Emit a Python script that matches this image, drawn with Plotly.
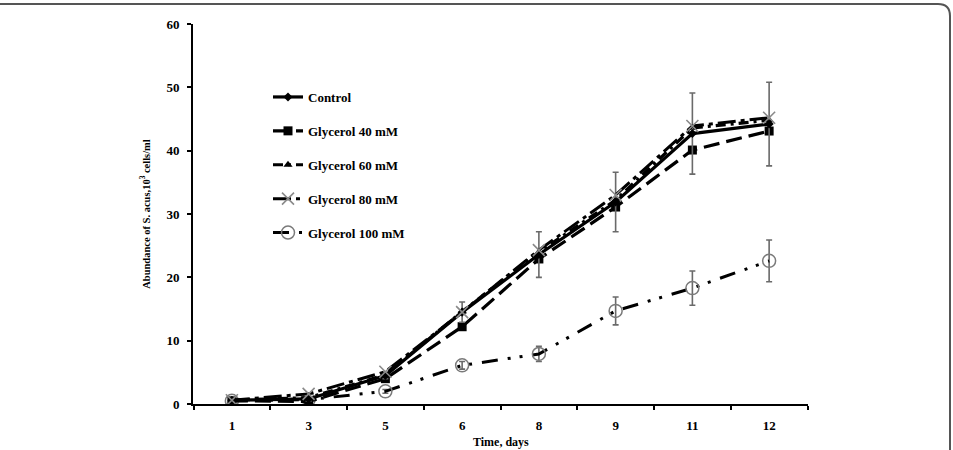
import plotly.graph_objects as go

days = ["1", "3", "5", "6", "8", "9", "11", "12"]

control = [0.6, 0.8, 4.5, 14.5, 23.6, 31.9, 42.7, 44.2]
control_err = [0.2, 0.3, 0.5, 1.6, 3.6, 4.7, 6.4, 6.6]
gly40 = [0.5, 0.4, 4.0, 12.2, 22.9, 31.1, 40.1, 43.1]
gly60 = [0.6, 1.0, 4.6, 14.6, 24.0, 32.2, 43.6, 44.8]
gly80 = [0.6, 1.6, 5.1, 14.5, 24.3, 33.0, 43.9, 45.2]
gly100 = [0.5, 0.7, 2.0, 6.1, 7.9, 14.7, 18.3, 22.6]
gly100_err = [0.2, 0.2, 0.3, 0.6, 1.2, 2.2, 2.7, 3.3]

y_ticks = [0, 10, 20, 30, 40, 50, 60]

FONT = "Liberation Serif"
fig = go.Figure()

err_style = dict(type="data", color="#6a6a6a", thickness=1.6, width=3)

fig.add_trace(go.Scatter(
    x=days, y=gly100, name="Glycerol 100 mM", mode="lines+markers",
    line=dict(color="black", width=3, dash="16px,10px,3px,9px,3px,10px"),
    marker=dict(symbol="circle-open", size=13, color="#7a7a7a", line=dict(width=1.5, color="#7a7a7a")),
    error_y=dict(array=gly100_err, **err_style),
    legendgroup="e", legendrank=5,
))
fig.add_trace(go.Scatter(
    x=days, y=gly40, name="Glycerol 40 mM", mode="lines+markers",
    line=dict(color="black", width=3.2, dash="16px,7px"),
    marker=dict(symbol="square", size=9, color="black"),
    legendgroup="b", legendrank=2,
))
fig.add_trace(go.Scatter(
    x=days, y=gly60, name="Glycerol 60 mM", mode="lines+markers",
    line=dict(color="black", width=3.2, dash="10px,5px,3px,5px"),
    marker=dict(symbol="triangle-up", size=8, color="black"),
    legendgroup="c", legendrank=3,
))
fig.add_trace(go.Scatter(
    x=days, y=control, name="Control", mode="lines+markers",
    line=dict(color="black", width=3.2),
    marker=dict(symbol="diamond", size=7, color="black"),
    error_y=dict(array=control_err, **err_style),
    legendgroup="a", legendrank=1,
))
fig.add_trace(go.Scatter(
    x=days, y=gly80, name="Glycerol 80 mM", mode="lines+markers",
    line=dict(color="black", width=3, dash="18px,5px,4px,5px"),
    marker=dict(symbol="x-thin-open", size=12, color="#8a8a8a", line=dict(width=1.6, color="#8a8a8a")),
    legendgroup="d", legendrank=4,
))

L, R, T, B = 193, 145, 24, 46
W, H = 953, 450
pw, ph = W - L - R, H - T - B

def px(xp):
    return (xp - L) / pw

def py(yp):
    return (H - B - yp) / ph

# frame (top edge + rounded top-right corner + right edge)
x0, x1, yt, yb, r = px(-5), px(950), py(4), py(455), 12
path = (f"M {x0},{yt} L {px(950 - r)},{yt} "
        f"Q {x1},{yt} {x1},{py(4 + r)} L {x1},{yb}")
fig.add_shape(type="path", path=path, xref="paper", yref="paper",
              line=dict(color="#555555", width=2), layer="above")

# x-axis title
fig.add_annotation(text="Time, days", xref="paper", yref="paper",
                   x=0.5, y=py(442), xanchor="center", yanchor="middle",
                   showarrow=False, font=dict(family=FONT, size=12, weight="bold"))

fig.update_layout(
    width=W, height=H,
    margin=dict(l=L, r=R, t=T, b=B, autoexpand=False),
    paper_bgcolor="white", plot_bgcolor="white",
    font=dict(family=FONT, color="black", size=13, weight="bold"),
    showlegend=True,
    legend=dict(
        x=px(268), y=py(82), xanchor="left", yanchor="top",
        traceorder="grouped", tracegroupgap=14,
        font=dict(family=FONT, size=13, weight="bold"),
        bgcolor="rgba(0,0,0,0)", itemwidth=30,
    ),
    xaxis=dict(
        type="category", categoryorder="array", categoryarray=days,
        automargin=False,
        showgrid=False, zeroline=False,
        showline=True, linecolor="black", linewidth=2,
        ticks="outside", tickson="boundaries", ticklen=4, tickwidth=1.5, tickcolor="black",
        ticklabelstandoff=8,
        tickfont=dict(family=FONT, size=13, weight="bold"),
    ),
    yaxis=dict(
        range=[0, 60], tickvals=y_ticks, showgrid=False, zeroline=False,
        automargin=False,
        showline=True, linecolor="black", linewidth=2,
        ticks="outside", ticklen=4, tickwidth=1.5, tickcolor="black",
        ticklabelstandoff=5,
        tickfont=dict(family=FONT, size=13, weight="bold"),
        title=dict(text="Abundance of S. acus,10<sup>3</sup> cells/ml",
                   font=dict(family=FONT, size=10.5, weight="bold"), standoff=14),
    ),
)

fig.write_html("out.html")
